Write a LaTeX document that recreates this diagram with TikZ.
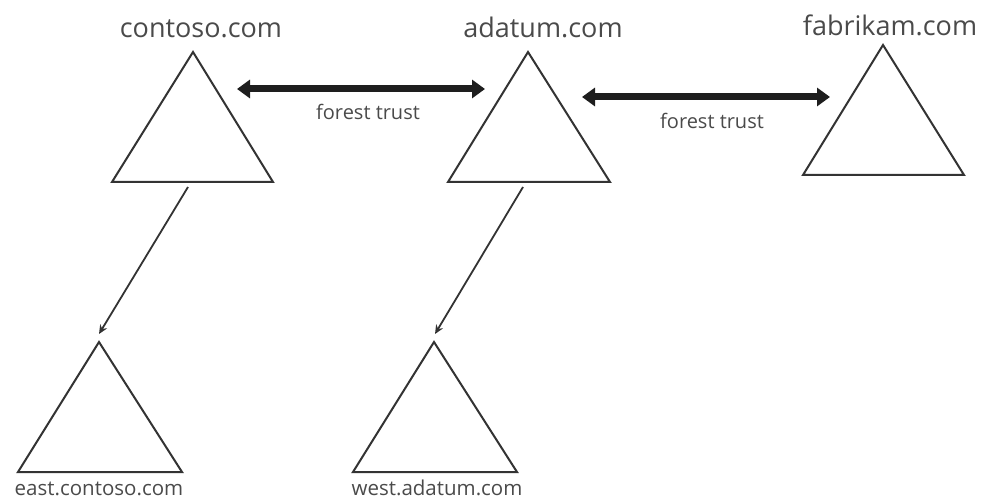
\documentclass[tikz,border=0pt]{standalone}
\usepackage{fontspec}
\setmainfont{Open Sans}
\usetikzlibrary{arrows.meta}
\definecolor{txt}{HTML}{4A4A4A}
\definecolor{edge}{HTML}{333333}
\definecolor{bar}{HTML}{1E1E1E}
\begin{document}
\begin{tikzpicture}[x=1pt,y=-1pt,
  tri/.style={draw=edge,line width=2pt,line join=miter,fill=white},
  domlabel/.style={text=txt,font=\fontsize{27}{30}\selectfont,inner sep=0pt,anchor=base},
  sublabel/.style={text=txt,font=\fontsize{20.5}{24}\selectfont,inner sep=0pt,anchor=base},
  trustlabel/.style={text=txt,font=\fontsize{20}{23}\selectfont,inner sep=0pt,anchor=base},
  trustarrow/.style={draw=bar,line width=7pt,{Triangle[length=13pt,width=18pt]}-{Triangle[length=13pt,width=18pt]}},
  childarrow/.style={draw=edge,line width=1.8pt,-{Stealth[length=9pt,width=8pt]}}]
\useasboundingbox (0,0) rectangle (981,502);
% triangles
\draw[tri] (193,52) -- (112,182) -- (273,182) -- cycle;
\draw[tri] (528,52) -- (448,182) -- (610,182) -- cycle;
\draw[tri] (883,45) -- (803,175) -- (964,175) -- cycle;
\draw[tri] (99,342) -- (18,472) -- (182,472) -- cycle;
\draw[tri] (434,342) -- (353,472) -- (517,472) -- cycle;
% labels
\node[domlabel] (lcontoso) at (201,38) {contoso.com};
\node[domlabel] (ladatum) at (543,38) {adatum.com};
\node[domlabel] (lfabrikam) at (890,36) {fabrikam.com};
\node[sublabel] (least) at (99,495) {east.contoso.com};
\node[sublabel] (lwest) at (437,495) {west.adatum.com};
% anchor coordinates
\coordinate (c1a) at (237,89);
\coordinate (c1b) at (485,89);
\coordinate (c2a) at (582,97);
\coordinate (c2b) at (830,97);
\coordinate (ctbase) at (188,187);
\coordinate (eastapex) at (99,334);
\coordinate (adbase) at (523,187);
\coordinate (westapex) at (435,334);
% trusts
\draw[trustarrow] (c1a) -- (c1b);
\draw[trustarrow] (c2a) -- (c2b);
\node[trustlabel] (t1) at (368,120) {forest trust};
\node[trustlabel] (t2) at (712,129) {forest trust};
% child links
\draw[childarrow] (ctbase) -- (eastapex);
\draw[childarrow] (adbase) -- (westapex);
\end{tikzpicture}
\end{document}
